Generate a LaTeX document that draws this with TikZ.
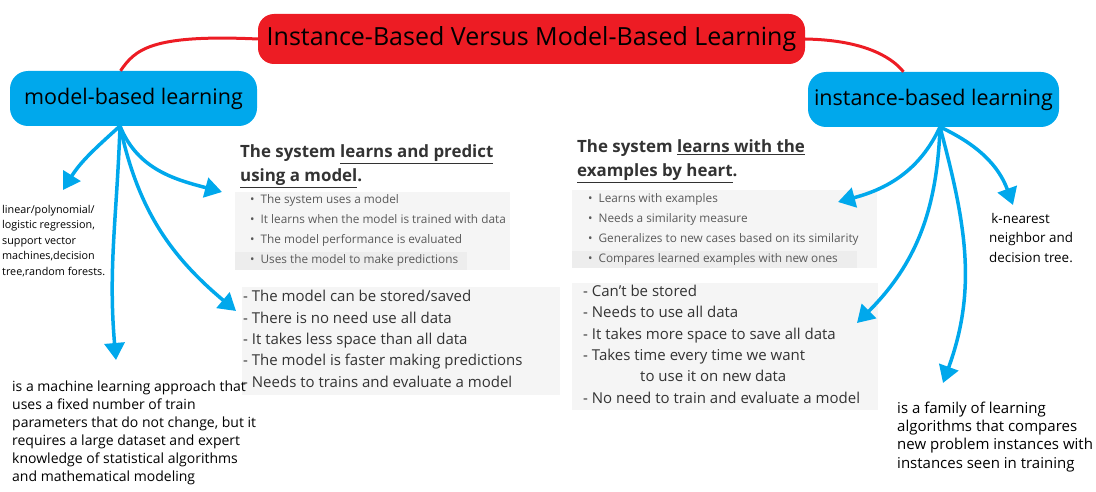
\documentclass[tikz,border=0pt]{standalone}
\usepackage{fontspec}
\setmainfont{Open Sans}
\usetikzlibrary{arrows.meta}

\definecolor{titlered}{HTML}{ED1C24}
\definecolor{mapblue}{HTML}{00A8EC}
\definecolor{slidetxt}{HTML}{333333}
\definecolor{bullettxt}{HTML}{5A5A5A}

\begin{document}
\begin{tikzpicture}[x=1pt,y=-1pt,
  topic/.style={fill=titlered, rounded corners=16pt, inner sep=0pt,
    minimum width=547pt, minimum height=50pt, font=\fontsize{25}{29}\selectfont},
  branch/.style={fill=mapblue, rounded corners=18pt, inner sep=0pt,
    minimum height=55pt, font=\fontsize{21.5}{25}\selectfont},
  link/.style={draw=titlered, line width=3pt},
  arrow/.style={draw=mapblue, line width=3.5pt, -{Triangle[length=17pt,width=20pt]}},
  head/.style={anchor=base west, inner sep=0pt, align=left, text=slidetxt,
    font=\fontsize{16.9}{24}\selectfont\bfseries},
  bullets/.style={anchor=base west, inner sep=0pt, align=left, text=bullettxt,
    font=\fontsize{11.8}{20}\selectfont},
  dashes/.style={anchor=base west, inner sep=0pt, align=left, text=slidetxt,
    font=\fontsize{15}{21.3}\selectfont},
  note/.style={anchor=base west, inner sep=0pt, align=left,
    font=\fontsize{14}{18}\selectfont},
  slidebg/.style={fill=black!4}
]
\useasboundingbox (0,0) rectangle (1096,492);

% ===================== Topic and branches =====================
\node[topic] (topic) at (531.5,39) {Instance-Based Versus Model-Based Learning};
\node[branch, minimum width=247pt] (model) at (133.5,98.5) {model-based learning};
\node[branch, minimum width=251pt] (inst)  at (933.5,99.5) {instance-based learning};

\draw[link] (topic.west) .. controls (150,34) and (135,50) .. ([xshift=-13pt]model.north);
\draw[link] (topic.east) .. controls (860,40) and (890,55) .. ([xshift=-30pt]inst.north);

% ===================== Slide backgrounds =====================
\fill[slidebg] (235,192) rectangle (510,270);
\fill[black!7] (235,252) rectangle (467,270);
\fill[slidebg] (242,287) rectangle (560,395);
\fill[slidebg] (572,190) rectangle (877,268);
\fill[black!7] (572,251) rectangle (857,268);
\fill[slidebg] (572,283) rectangle (878,410);

% ===================== Model-based slide =====================
% (multi-line nodes are anchored at the baseline of their last line)
\node[head] (mhead) at (240,182)
  {The system \underline{learns and predict}\\\underline{using a model}.};
\node[bullets] (mbul) at (250,263)
  {\textbullet\hspace{6pt}The system uses a model\\
   \textbullet\hspace{6pt}It learns when the model is trained with data\\
   \textbullet\hspace{6pt}The model performance is evaluated\\
   \textbullet\hspace{6pt}Uses the model to make predictions};
\node[dashes] (mdash) at (243,387)
  {- The model can be stored/saved\\
   - There is no need use all data\\
   - It takes less space than all data\\
   - The model is faster making predictions\\
   - Needs to trains and evaluate a model};

% ===================== Instance-based slide =====================
\node[head] (ihead) at (577,177)
  {The system \underline{learns with the}\\\underline{examples by heart}.};
\node[bullets] (ibul) at (588,262)
  {\textbullet\hspace{6pt}Learns with examples\\
   \textbullet\hspace{6pt}Needs a similarity measure\\
   \textbullet\hspace{6pt}Generalizes to new cases based on its similarity\\
   \textbullet\hspace{6pt}Compares learned examples with new ones};
\node[dashes] (idash) at (583,403)
  {- Can't be stored\\
   - Needs to use all data\\
   - It takes more space to save all data\\
   - Takes time every time we want\\
   \hspace*{57pt}to use it on new data\\
   - No need to train and evaluate a model};

% ===================== Notes =====================
\node[note, font=\fontsize{10.8}{15.5}\selectfont] (mexam) at (2,275)
  {linear/polynomial/\\logistic regression,\\support vector\\machines,decision\\tree,random forests.};
\node[note] (mdef) at (12,481)
  {is a machine learning approach that\\uses a fixed number of train\\parameters that do not change, but it\\requires a large dataset and expert\\knowledge of statistical algorithms\\and mathematical modeling};
\node[note, font=\fontsize{13.4}{19.5}\selectfont] (iexam) at (989,262)
  {\,k-nearest\\neighbor and\\decision tree.};
\node[note, font=\fontsize{15}{18.3}\selectfont] (idef) at (897,468)
  {is a family of learning\\algorithms that compares\\new problem instances with\\instances seen in training};

% ===================== Arrows =====================
\coordinate (mfan) at (120,126);
\coordinate (m1) at (63,190);
\coordinate (m2) at (116,360);
\coordinate (m3) at (222,192);
\coordinate (m4) at (236,311);
\draw[arrow] (mfan) to[out=268, in=95]  (m2);
\draw[arrow] (mfan) to[out=222, in=58]  (m1);
\draw[arrow] (mfan) to[out=-68, in=165] (m3);
\draw[arrow] (mfan) to[out=-78, in=140] (m4);

\coordinate (ifan) at (940,127);
\coordinate (i1) at (838,202);
\coordinate (i2) at (1013,205);
\coordinate (i3) at (857,323);
\coordinate (i4) at (943,383);
\draw[arrow] (ifan) to[out=245, in=15]  (i1);
\draw[arrow] (ifan) to[out=-25, in=110] (i2);
\draw[arrow] (ifan) to[out=-92, in=45]  (i3);
\draw[arrow] (ifan) to[out=-75, in=70]  (i4);

\end{tikzpicture}
\end{document}
